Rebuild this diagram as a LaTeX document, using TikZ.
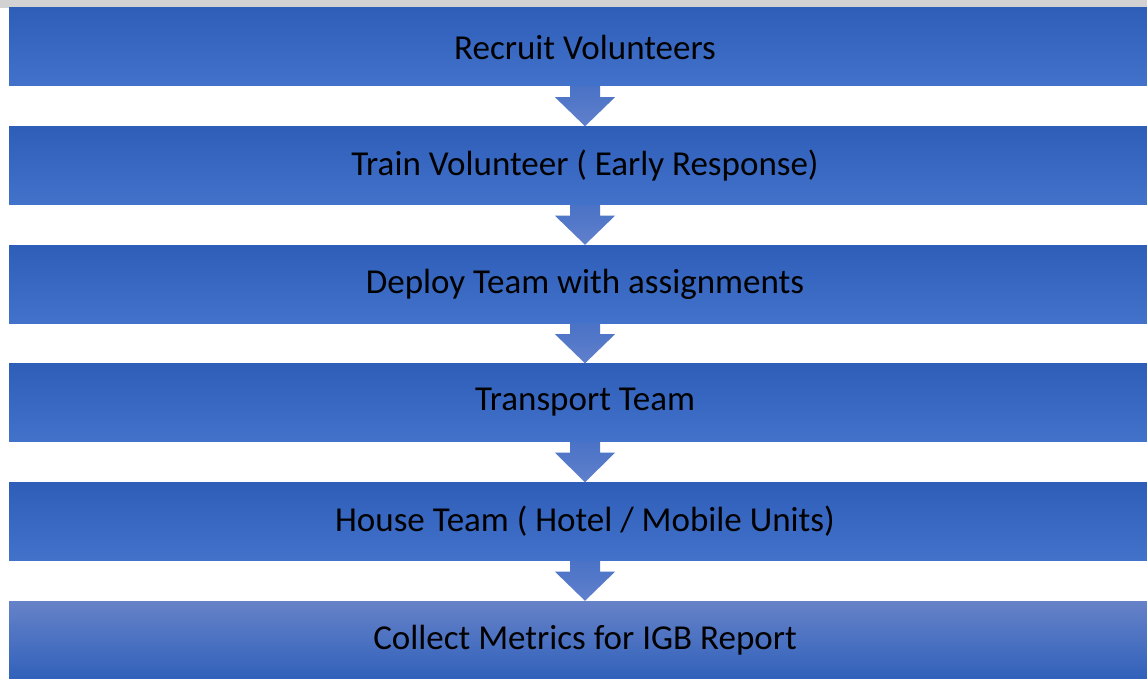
\documentclass[tikz,border=0pt]{standalone}
\usepackage{fontspec}
\setmainfont{Carlito}
\usetikzlibrary{calc}
\definecolor{btop}{HTML}{2E5EB8}
\definecolor{bbot}{HTML}{4272CA}
\definecolor{ltop}{HTML}{6682C8}
\definecolor{arrA}{HTML}{4A72C6}
\definecolor{arrB}{HTML}{6080CC}
\definecolor{strip}{HTML}{D2D2D2}
\tikzset{
  stepbox/.style={rectangle, minimum width=1152pt, minimum height=78pt, inner sep=0pt,
    top color=btop, bottom color=bbot, draw=none, font=\fontsize{35}{40}\selectfont, text=black},
  lastbox/.style={stepbox, top color=ltop, bottom color=btop!85!bbot},
  flowarrow/.style={top color=arrA, bottom color=arrB, draw=none}
}
\newcommand{\flowarr}[2]{%
  \path[flowarrow] ($(#1.south)+(-15pt,0)$) -- ($(#1.south)+(15pt,0)$) -- ($(#1.south)+(15pt,-11pt)$)
    -- ($(#1.south)+(30pt,-11pt)$) -- (#2.north) -- ($(#1.south)+(-30pt,-11pt)$)
    -- ($(#1.south)+(-15pt,-11pt)$) -- cycle;}
\begin{document}
\begin{tikzpicture}[x=1pt,y=-1pt]
\useasboundingbox (0,0) rectangle (1147,679);
\fill[white] (0,0) rectangle (1147,679);
\fill[strip] (0,0) rectangle (1147,8);
\node[stepbox] (s1) at (585,47) {Recruit Volunteers};
\node[stepbox] (s2) at (585,165.5) {Train Volunteer ( Early Response)};
\node[stepbox] (s3) at (585,284) {Deploy Team with assignments};
\node[stepbox] (s4) at (585,402.5) {Transport Team};
\node[stepbox] (s5) at (585,521.5) {House Team ( Hotel / Mobile Units)};
\node[lastbox] (s6) at (585,640) {Collect Metrics for IGB Report};
\flowarr{s1}{s2}
\flowarr{s2}{s3}
\flowarr{s3}{s4}
\flowarr{s4}{s5}
\flowarr{s5}{s6}
\end{tikzpicture}
\end{document}
